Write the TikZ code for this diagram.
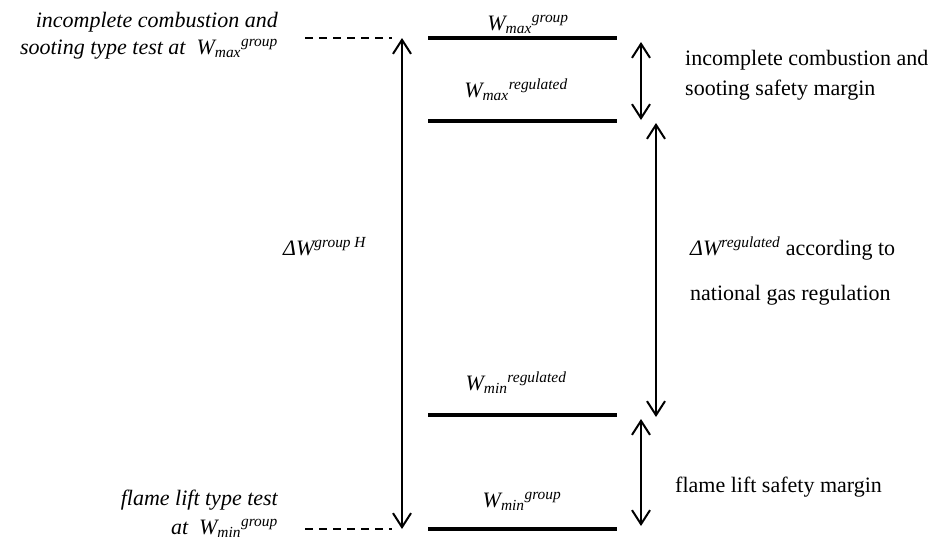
\documentclass[tikz,border=0pt]{standalone}
\usepackage{fontspec}
\setmainfont{Liberation Serif}
\usetikzlibrary{arrows.meta, positioning}

\begin{document}
\begin{tikzpicture}[x=1pt,y=-1pt]
\tikzstyle{every node}+=[inner sep=0pt, font=\fontsize{22}{27}\selectfont]
\tikzstyle{level}=[line width=4pt]
\tikzstyle{span}=[line width=2pt, {Straight Barb[length=14pt,width=18pt]}-{Straight Barb[length=14pt,width=18pt]}]
\tikzstyle{guide}=[line width=2pt, dash pattern=on 8pt off 6pt]
\useasboundingbox (0,0) rectangle (929,539);
% the four levels
\coordinate (gmaxL) at (428,38);
\coordinate (gmaxR) at (617,38);
\coordinate (rmaxL) at (428,121);
\coordinate (rmaxR) at (617,121);
\coordinate (rminL) at (428,415);
\coordinate (rminR) at (617,415);
\coordinate (gminL) at (428,529);
\coordinate (gminR) at (617,529);
\draw [level] (gmaxL) -- (gmaxR);
\draw [level] (rmaxL) -- (rmaxR);
\draw [level] (rminL) -- (rminR);
\draw [level] (gminL) -- (gminR);
\node (lgmax) at (528,30) [anchor=base] {\itshape W\textsubscript{max}\textsuperscript{group}};
\node (lrmax) at (516,97) [anchor=base] {\itshape W\textsubscript{max}\textsuperscript{regulated}};
\node (lrmin) at (516,390) [anchor=base] {\itshape W\textsubscript{min}\textsuperscript{regulated}};
\node (lgmin) at (522,507) [anchor=base] {\itshape W\textsubscript{min}\textsuperscript{group}};
% type test levels on the left
\coordinate (ttop) at (402,38);
\coordinate (tbot) at (402,529);
\coordinate (dtop) at (305,38);
\coordinate (dbot) at (305,529);
\draw [guide] (dtop) -- (392,38);
\draw [guide] (dbot) -- (392,529);
\draw [span] (ttop) -- (tbot);
\node (dgroup) at (283,255) [anchor=base west] {\itshape ΔW\textsuperscript{group H}};
\node (tsoot) at (278,54) [anchor=base east, align=right] {\itshape incomplete combustion and\\ \itshape sooting type test at\ \ W\textsubscript{max}\textsuperscript{group}};
\node (tlift) at (278,534) [anchor=base east, align=right, font=\fontsize{22}{29}\selectfont] {\itshape flame lift type test\\ \itshape at\ \ W\textsubscript{min}\textsuperscript{group}};
% margins on the right
\coordinate (m1a) at (641,42);
\coordinate (m1b) at (641,120);
\coordinate (m2a) at (656,123);
\coordinate (m2b) at (656,417);
\coordinate (m3a) at (641,419);
\coordinate (m3b) at (641,526);
\draw [span] (m1a) -- (m1b);
\draw [span] (m2a) -- (m2b);
\draw [span] (m3a) -- (m3b);
\node (msoot) at (685,95) [anchor=base west, align=left, font=\fontsize{22}{30}\selectfont] {incomplete combustion and\\sooting safety margin};
\node (mreg) at (690,300) [anchor=base west, align=left, font=\fontsize{22}{45}\selectfont] {\itshape ΔW\textsuperscript{regulated}\upshape\ according to\\national gas regulation};
\node (mlift) at (675,492) [anchor=base west] {flame lift safety margin};
\end{tikzpicture}
\end{document}
